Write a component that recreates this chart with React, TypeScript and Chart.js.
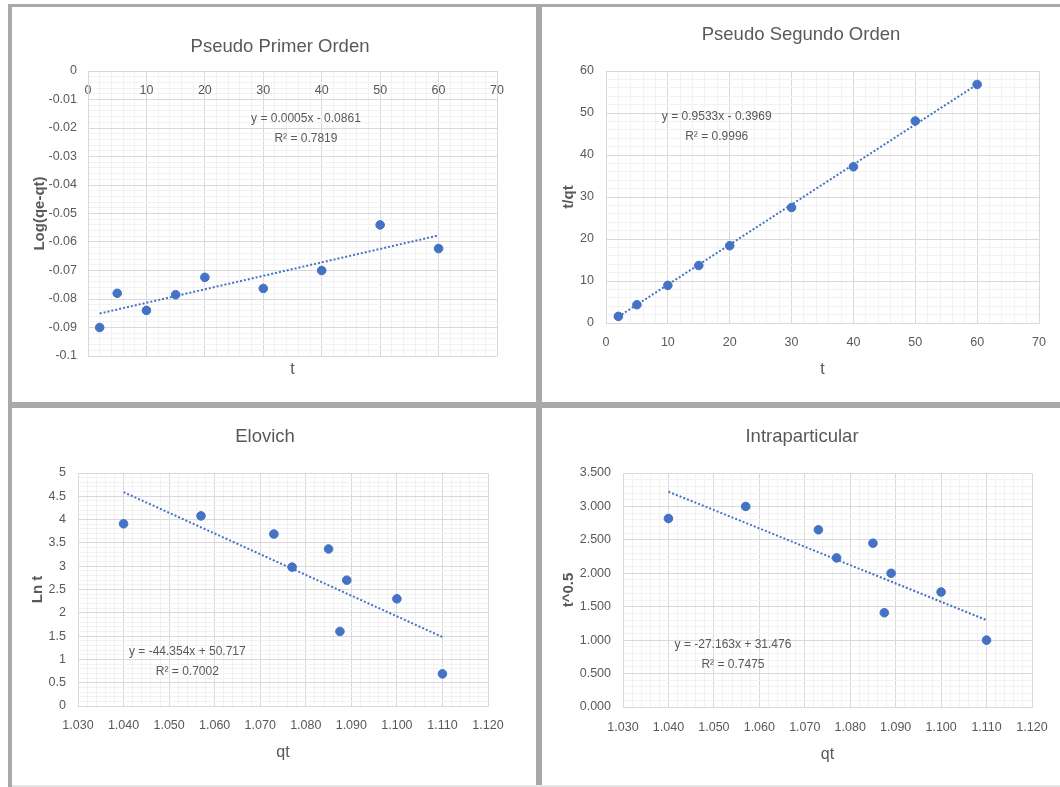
import React, { useEffect, useRef } from 'react';
import { Chart, registerables } from 'chart.js';

Chart.register(...registerables);

// ---------- data ----------
const tMinutes = [2, 5, 10, 15, 20, 30, 40, 50, 60];
const logQeQt = [-0.09, -0.078, -0.084, -0.0785, -0.0724, -0.0763, -0.07, -0.054, -0.0623];
const tOverQt = [1.58, 4.35, 8.95, 13.7, 18.4, 27.5, 37.2, 48.1, 56.8];
const qtValues = [1.04, 1.057, 1.073, 1.077, 1.085, 1.0875, 1.089, 1.1, 1.11];
const lnT = [3.91, 4.08, 3.69, 2.98, 3.37, 1.6, 2.7, 2.3, 0.69];
const tPowHalf = [2.82, 3.0, 2.65, 2.23, 2.45, 1.41, 2.0, 1.72, 1.0];

// trendline end points
const trendPrimerX = [2, 60];
const trendPrimerY = [-0.0851, -0.0577];
const trendSegundoX = [2, 60];
const trendSegundoY = [1.5, 56.8];
const trendElovichX = [1.04, 1.11];
const trendElovichY = [4.59, 1.48];
const trendIntraX = [1.04, 1.11];
const trendIntraY = [3.22, 1.3];

// trendline labels and their anchor in data units
const eqPrimer = ['y = 0.0005x - 0.0861', 'R\u00B2 = 0.7819'];
const eqPrimerAt = [37.3, -0.0168];
const eqSegundo = ['y = 0.9533x - 0.3969', 'R\u00B2 = 0.9996'];
const eqSegundoAt = [17.9, 49.1];
const eqElovich = ['y = -44.354x + 50.717', 'R\u00B2 = 0.7002'];
const eqElovichAt = [1.054, 1.167];
const eqIntra = ['y = -27.163x + 31.476', 'R\u00B2 = 0.7475'];
const eqIntraAt = [1.0542, 0.932];

// tick labels (from axis minimum upward)
const tTickLabels = ['0', '10', '20', '30', '40', '50', '60', '70'];
const logTickLabels = ['-0.1', '-0.09', '-0.08', '-0.07', '-0.06', '-0.05', '-0.04', '-0.03', '-0.02', '-0.01', '0'];
const tqtTickLabels = ['0', '10', '20', '30', '40', '50', '60'];
const qtTickLabels = ['1.030', '1.040', '1.050', '1.060', '1.070', '1.080', '1.090', '1.100', '1.110', '1.120'];
const lnTickLabels = ['0', '0.5', '1', '1.5', '2', '2.5', '3', '3.5', '4', '4.5', '5'];
const sqrtTickLabels = ['0.000', '0.500', '1.000', '1.500', '2.000', '2.500', '3.000', '3.500'];

// ---------- style ----------
const FONT = "'Liberation Sans', Arial, sans-serif";
const TEXT = '#595959';
const BLUE = '#4472C4';
const GRID_MAJOR = '#d9d9d9';
const GRID_MINOR = '#f2f2f2';
const FRAME = '#a9a9a9';

function isMajor(v: number, min: number, major: number) {
  const r = (v - min) / major;
  return Math.abs(r - Math.round(r)) < 1e-6;
}
function labelFor(labels: string[], min: number, major: number) {
  return (value: any) => {
    const v = Number(value);
    if (!isMajor(v, min, major)) return '';
    const i = Math.round((v - min) / major);
    return labels[i] ?? '';
  };
}
function gridFor(min: number, major: number) {
  return (ctx: any) => {
    const v = ctx.tick ? ctx.tick.value : min;
    return isMajor(v, min, major) ? GRID_MAJOR : GRID_MINOR;
  };
}

const panels: any[] = [
  {
    key: 'p1',
    left: 12, top: 6, width: 536, height: 396,
    title: 'Pseudo Primer Orden', titlePad: { top: 29.9, bottom: 12.9 },
    xs: tMinutes, ys: logQeQt, trendX: trendPrimerX, trendY: trendPrimerY,
    eq: eqPrimer, eqAt: eqPrimerAt,
    x: { min: 0, max: 70, minor: 2, major: 10, labels: tTickLabels, title: 't', onTop: true, height: 46, tickPad: 12, titlePadBottom: 22.4 },
    y: { min: -0.1, max: 0, minor: 0.002, major: 0.01, labels: logTickLabels, title: 'Log(qe-qt)', width: 76, tickPad: 11, titlePadTop: 19 },
    spacerRight: 51,
  },
  {
    key: 'p2',
    left: 542, top: 6, width: 518, height: 396,
    title: 'Pseudo Segundo Orden', titlePad: { top: 17.9, bottom: 24.9 },
    xs: tMinutes, ys: tOverQt, trendX: trendSegundoX, trendY: trendSegundoY,
    eq: eqSegundo, eqAt: eqSegundoAt,
    x: { min: 0, max: 70, minor: 2, major: 10, labels: tTickLabels, title: 't', onTop: false, height: 79, tickPad: 12.5, titlePadBottom: 22.4 },
    y: { min: 0, max: 60, minor: 2, major: 10, labels: tqtTickLabels, title: 't/qt', width: 64, tickPad: 12, titlePadTop: 18 },
    spacerRight: 21,
  },
  {
    key: 'p3',
    left: 12, top: 408, width: 506, height: 377,
    title: 'Elovich', titlePad: { top: 17.9, bottom: 24.9 },
    xs: qtValues, ys: lnT, trendX: trendElovichX, trendY: trendElovichY,
    eq: eqElovich, eqAt: eqElovichAt,
    x: { min: 1.03, max: 1.12, minor: 0.002, major: 0.01, labels: qtTickLabels, title: 'qt', onTop: false, height: 79, tickPad: 12.5, titlePadBottom: 22.4 },
    y: { min: 0, max: 5, minor: 0.1, major: 0.5, labels: lnTickLabels, title: 'Ln t', width: 66, tickPad: 12, titlePadTop: 17.3 },
    spacerRight: 30,
  },
  {
    key: 'p4',
    left: 542, top: 408, width: 520, height: 377,
    title: 'Intraparticular', titlePad: { top: 17.9, bottom: 24.9 },
    xs: qtValues, ys: tPowHalf, trendX: trendIntraX, trendY: trendIntraY,
    eq: eqIntra, eqAt: eqIntraAt,
    x: { min: 1.03, max: 1.12, minor: 0.002, major: 0.01, labels: qtTickLabels, title: 'qt', onTop: false, height: 78, tickPad: 13.2, titlePadBottom: 20.4 },
    y: { min: 0, max: 3.5, minor: 0.1, major: 0.5, labels: sqrtTickLabels, title: 't^0.5', width: 81, tickPad: 12, titlePadTop: 18.3 },
    spacerRight: 30,
  },
];

function buildConfig(p: any): any {
  const points = p.xs.map((x: number, i: number) => ({ x, y: p.ys[i] }));
  const trend = p.trendX.map((x: number, i: number) => ({ x, y: p.trendY[i] }));
  const tickFont = { family: FONT, size: 12.5 };

  const eqPlugin = {
    id: 'eqLabel' + p.key,
    afterDatasetsDraw(chart: any) {
      const ctx = chart.ctx;
      const px = chart.scales.x.getPixelForValue(p.eqAt[0]);
      const py = chart.scales.y.getPixelForValue(p.eqAt[1]);
      ctx.save();
      ctx.fillStyle = TEXT;
      ctx.font = `12px ${FONT}`;
      ctx.textAlign = 'center';
      ctx.textBaseline = 'middle';
      p.eq.forEach((line: string, i: number) => ctx.fillText(line, px, py + i * 20));
      ctx.restore();
    },
  };

  const scales: any = {
    x: {
      type: 'linear',
      position: p.x.onTop ? { y: p.y.max } : 'bottom',
      min: p.x.min,
      max: p.x.max,
      afterFit: (s: any) => { s.height = p.x.onTop ? 0 : p.x.height; },
      ticks: {
        stepSize: p.x.minor,
        autoSkip: false,
        maxRotation: 0,
        minRotation: 0,
        padding: p.x.tickPad,
        color: TEXT,
        font: tickFont,
        callback: labelFor(p.x.labels, p.x.min, p.x.major),
      },
      grid: { color: gridFor(p.x.min, p.x.major), drawTicks: false, lineWidth: 1 },
      border: { display: true, color: GRID_MAJOR },
      title: p.x.onTop
        ? { display: false }
        : { display: true, text: p.x.title, color: TEXT, font: { family: FONT, size: 16 }, padding: { top: 0, bottom: p.x.titlePadBottom } },
    },
    y: {
      type: 'linear',
      position: 'left',
      min: p.y.min,
      max: p.y.max,
      afterFit: (s: any) => { s.width = p.y.width; },
      ticks: {
        stepSize: p.y.minor,
        autoSkip: false,
        padding: p.y.tickPad,
        color: TEXT,
        font: tickFont,
        callback: labelFor(p.y.labels, p.y.min, p.y.major),
      },
      grid: { color: gridFor(p.y.min, p.y.major), drawTicks: false, lineWidth: 1 },
      border: { display: true, color: GRID_MAJOR },
      title: { display: true, text: p.y.title, color: TEXT, font: { family: FONT, size: 15, weight: 'bold' }, padding: { top: p.y.titlePadTop, bottom: 0 } },
    },
    yr: {
      type: 'linear',
      position: 'right',
      display: true,
      afterFit: (s: any) => { s.width = p.spacerRight; },
      ticks: { display: false },
      grid: { display: false },
      border: { display: false },
      title: { display: false },
    },
  };
  if (p.x.onTop) {
    scales.xt = {
      type: 'linear',
      position: 'bottom',
      display: true,
      afterFit: (s: any) => { s.height = p.x.height; },
      ticks: { display: false },
      grid: { display: false },
      border: { display: false },
      title: { display: true, text: p.x.title, color: TEXT, font: { family: FONT, size: 16 }, padding: { top: 0, bottom: p.x.titlePadBottom } },
    };
  }

  return {
    type: 'scatter',
    data: {
      datasets: [
        {
          label: 'Tendencia',
          data: trend,
          xAxisID: 'x',
          yAxisID: 'y',
          showLine: true,
          borderColor: BLUE,
          borderWidth: 2,
          borderDash: [2, 2],
          pointRadius: 0,
          fill: false,
        },
        {
          label: p.title,
          data: points,
          xAxisID: 'x',
          yAxisID: 'y',
          showLine: false,
          pointRadius: 4.3,
          pointBorderWidth: 1,
          pointBackgroundColor: BLUE,
          pointBorderColor: BLUE,
        },
      ],
    },
    options: {
      responsive: false,
      maintainAspectRatio: false,
      animation: false,
      events: [],
      layout: { padding: 0 },
      plugins: {
        legend: { display: false },
        tooltip: { enabled: false },
        title: {
          display: true,
          text: p.title,
          color: TEXT,
          font: { family: FONT, size: 18.5, weight: 'normal' },
          padding: p.titlePad,
        },
      },
      scales,
    },
    plugins: [eqPlugin],
  };
}

function Panel({ p }: { p: any }) {
  const ref = useRef<HTMLCanvasElement | null>(null);
  useEffect(() => {
    if (!ref.current) return;
    const chart = new Chart(ref.current, buildConfig(p));
    return () => chart.destroy();
  }, [p]);
  return (
    <canvas
      ref={ref}
      width={p.width}
      height={p.height}
      style={{ position: 'absolute', left: p.left, top: p.top, width: p.width, height: p.height, zIndex: 1 }}
    />
  );
}

export default function App() {
  const line = (left: number, top: number, width: number, height: number, color: string) => (
    <div style={{ position: 'absolute', left, top, width, height, background: color, zIndex: 2 }} />
  );
  return (
    <div style={{ position: 'absolute', left: 0, top: 0, width: 1060, height: 787, overflow: 'hidden', background: '#ffffff' }}>
      {panels.map((p) => (
        <Panel key={p.key} p={p} />
      ))}
      {line(8, 4, 1052, 3, FRAME)}
      {line(8, 4, 4, 783, FRAME)}
      {line(536, 4, 6, 783, FRAME)}
      {line(8, 402, 1052, 6, FRAME)}
      {line(12, 785, 1048, 2, '#e4e4e4')}
    </div>
  );
}
